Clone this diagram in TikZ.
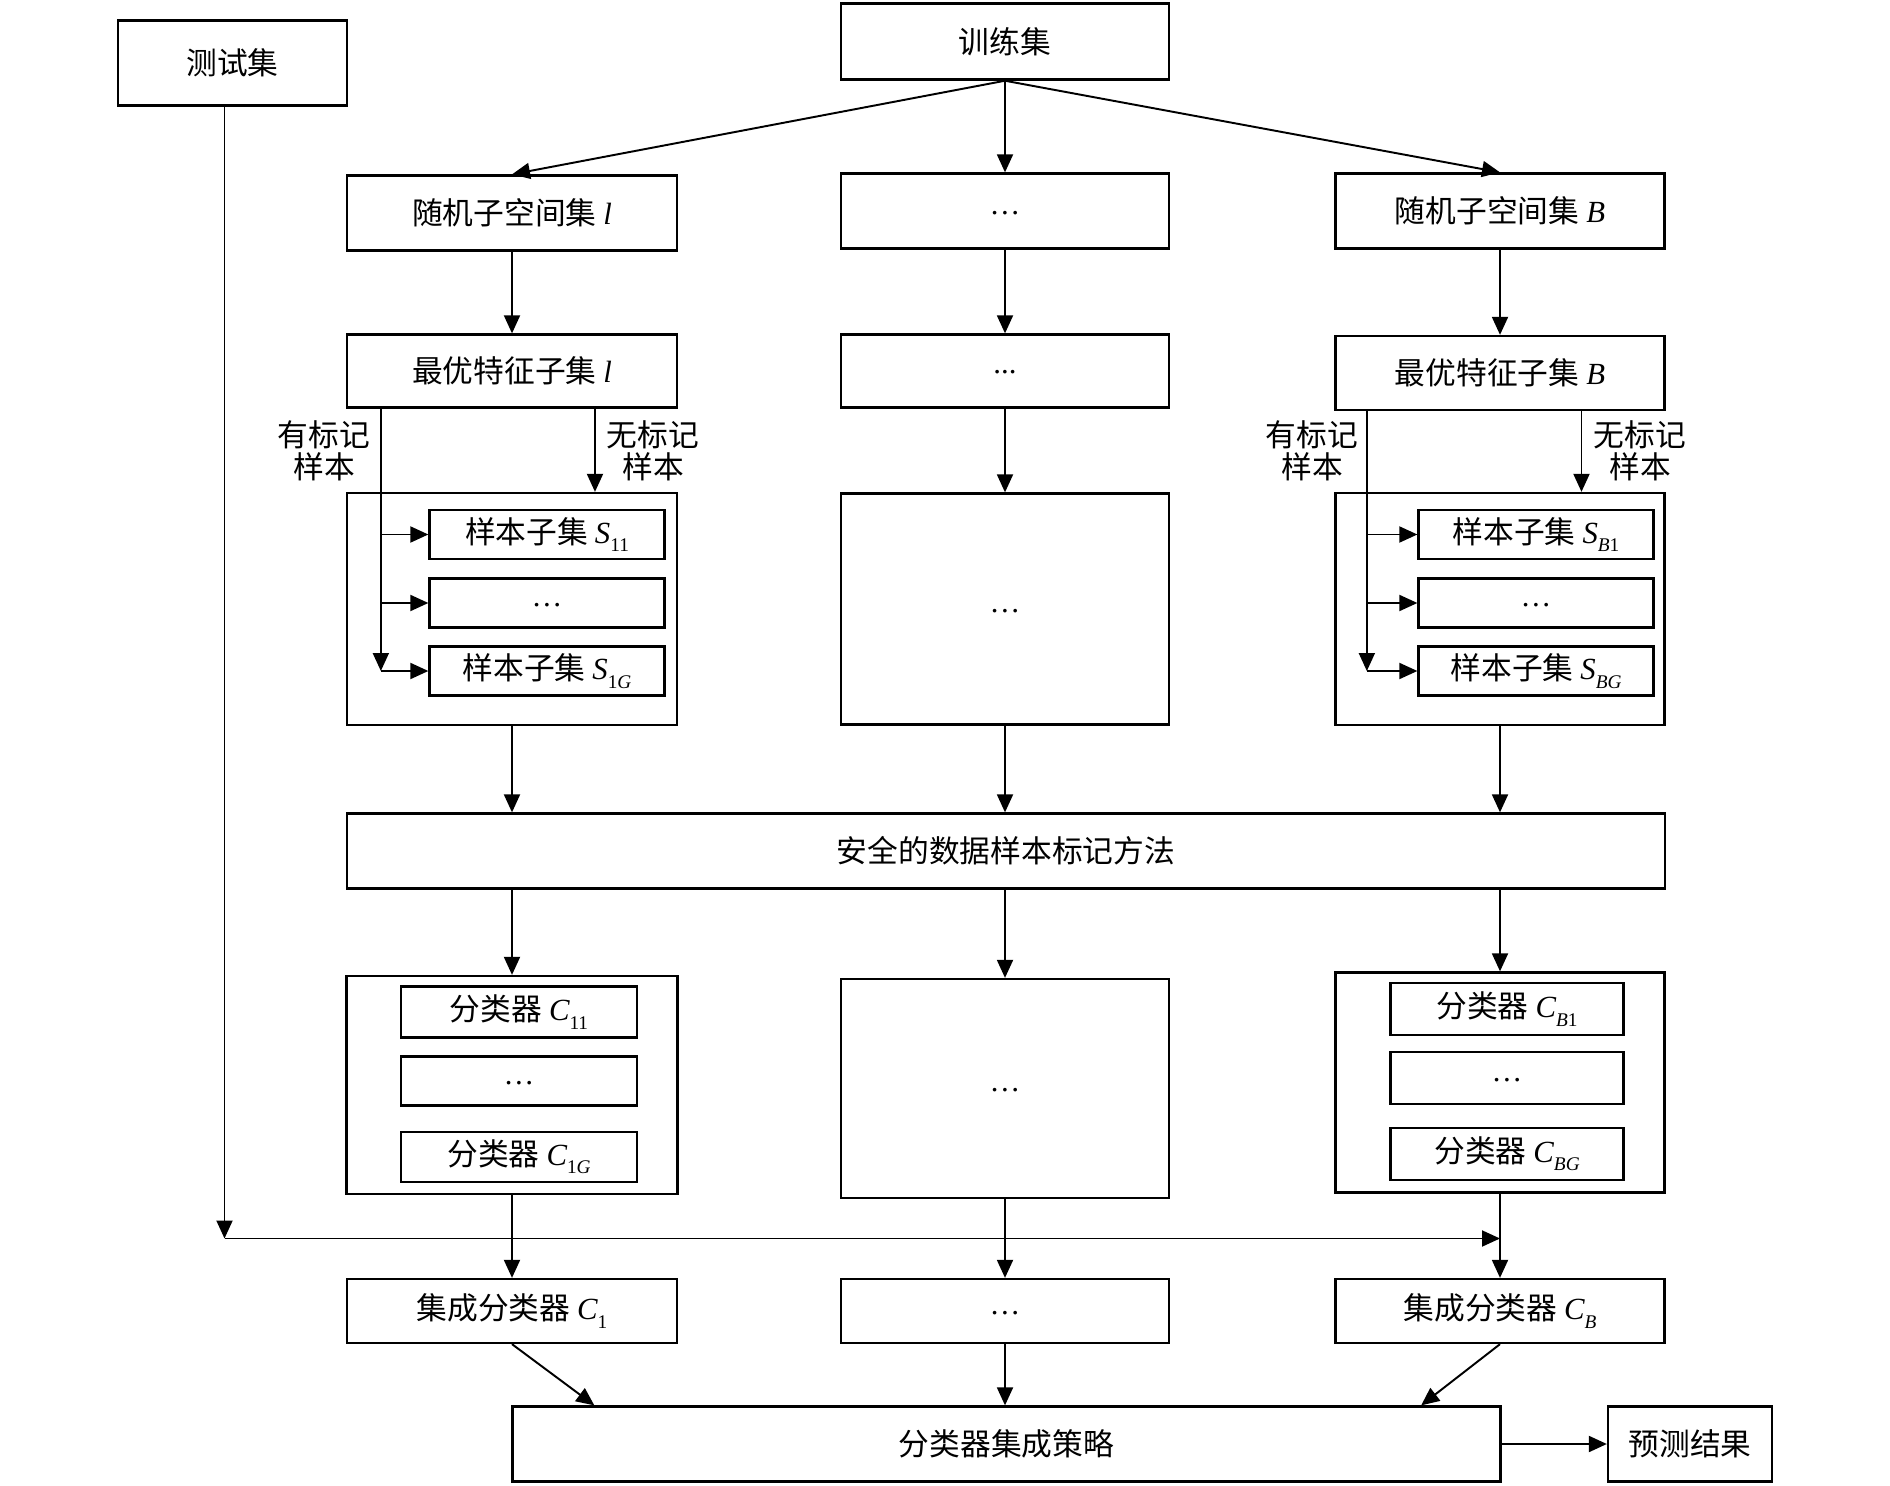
\documentclass[tikz,border=0pt]{standalone}
\usepackage{fontspec}
\setmainfont{Noto Sans CJK SC}
\newfontfamily\tnr{Liberation Serif}
\usetikzlibrary{arrows.meta,calc}
\newcommand\mvar[2]{{\tnr\itshape #1}\raisebox{-0.5ex}{\tnr\fontsize{11}{11}\selectfont #2}}
\newcommand\mdots{\raisebox{-4pt}{\tnr …}}
\begin{document}
\begin{tikzpicture}[x=0.02cm,y=-0.02cm,
  box/.style={draw,line width=1.3pt,inner sep=0pt,align=center,font=\fontsize{17.5}{18.5}\selectfont},
  wh/.style 2 args={minimum width=#1*0.02cm,minimum height=#2*0.02cm},
  arr/.style={line width=1.1pt,-{Triangle[length=0.36cm,width=0.32cm]}},
  lbl/.style={align=center,inner sep=0pt,font=\fontsize{17.5}{18.5}\selectfont}]
\useasboundingbox (0,0) rectangle (1890,1486);
% top
\node[box,wh={229}{85}] (test) at (232.5,63) {测试集};
\node[box,wh={328}{76}] (train) at (1005,41.6) {训练集};
% row 1
\node[box,wh={330}{75}] (r1l) at (512,213) {随机子空间集 {\tnr\itshape l}};
\node[box,wh={328}{75}] (r1m) at (1005,211) {\mdots};
\node[box,wh={329}{75}] (r1r) at (1500,211) {随机子空间集 {\tnr\itshape B}};
% row 2
\node[box,wh={330}{73}] (r2l) at (512,371) {最优特征子集 {\tnr\itshape l}};
\node[box,wh={328}{73}] (r2m) at (1005,371) {\raisebox{-3.5pt}{\tnr ...}};
\node[box,wh={329}{74}] (r2r) at (1500,373) {最优特征子集 {\tnr\itshape B}};
% row 3
\node[box,wh={330}{232}] (bl) at (512,609) {};
\node[box,wh={328}{231}] (bm) at (1005,609) {\mdots};
\node[box,wh={329}{232}] (br) at (1500,609) {};
\node[box,wh={235}{49}] (sl1) at (547,534.5) {样本子集 \mvar{S}{11}};
\node[box,wh={235}{49}] (sl2) at (547,603) {\mdots};
\node[box,wh={235}{49}] (sl3) at (547,671) {样本子集 \mvar{S}{1\textit{G}}};
\node[box,wh={235}{49}] (sr1) at (1536,534.5) {样本子集 \mvar{S}{\textit{B}1}};
\node[box,wh={235}{49}] (sr2) at (1536,603) {\mdots};
\node[box,wh={235}{49}] (sr3) at (1536,671) {样本子集 \mvar{S}{\textit{BG}}};
\node[lbl] (ll) at (324,451) {有标记\\样本};
\node[lbl] (ul) at (653,451) {无标记\\样本};
\node[lbl] (lr) at (1312,451) {有标记\\样本};
\node[lbl] (ur) at (1640,451) {无标记\\样本};
% row 4
\node[box,wh={1318}{75}] (safe) at (1006,851) {安全的数据样本标记方法};
% row 5
\node[box,wh={331}{218}] (cl) at (512,1085) {};
\node[box,wh={328}{219}] (cm) at (1005,1088.5) {\mdots};
\node[box,wh={329}{220}] (cr) at (1500,1082.5) {};
\node[box,wh={236}{51}] (cl1) at (519,1012) {分类器 \mvar{C}{11}};
\node[box,wh={236}{49}] (cl2) at (519,1081) {\mdots};
\node[box,wh={236}{50}] (cl3) at (519,1157) {分类器 \mvar{C}{1\textit{G}}};
\node[box,wh={233}{52}] (cr1) at (1507,1009) {分类器 \mvar{C}{\textit{B}1}};
\node[box,wh={233}{52}] (cr2) at (1507,1078) {\mdots};
\node[box,wh={233}{52}] (cr3) at (1507,1154) {分类器 \mvar{C}{\textit{BG}}};
% row 6
\node[box,wh={330}{64}] (el) at (512,1311) {集成分类器 \mvar{C}{1}};
\node[box,wh={328}{64}] (em) at (1005,1311) {\mdots};
\node[box,wh={329}{64}] (er) at (1500,1311) {集成分类器 \mvar{C}{\textit{B}}};
% row 7
\node[box,wh={988}{75}] (strat) at (1006.5,1444) {分类器集成策略};
\node[box,wh={164}{75}] (res) at (1690,1444) {预测结果};
% connectors
\draw[arr] (train.south) -- (r1l.north);
\draw[arr] (train.south) -- (r1m.north);
\draw[arr] (train.south) -- (r1r.north);
\draw[arr] (r1l.south) -- (r2l.north);
\draw[arr] (r1m.south) -- (r2m.north);
\draw[arr] (r1r.south) -- (r2r.north);
\draw[arr] (r2m.south) -- (bm.north);
% left sample routing
\draw[arr] ([xshift=0.7cm]r2l.south west) coordinate (la) -- (la |- sl3.west);
\draw[arr] (la |- sl1.west) -- (sl1.west);
\draw[arr] (la |- sl2.west) -- (sl2.west);
\draw[arr] (la |- sl3.west) -- (sl3.west);
\draw[arr] ([xshift=1.66cm]r2l.south) -- ([xshift=1.66cm]bl.north);
% right sample routing
\draw[arr] ([xshift=0.65cm]r2r.south west) coordinate (ra) -- (ra |- sr3.west);
\draw[arr] (ra |- sr1.west) -- (sr1.west);
\draw[arr] (ra |- sr2.west) -- (sr2.west);
\draw[arr] (ra |- sr3.west) -- (sr3.west);
\draw[arr] ([xshift=1.63cm]r2r.south) -- ([xshift=1.63cm]br.north);
% to safe
\draw[arr] (bl.south) -- (bl.south |- safe.north);
\draw[arr] (bm.south) -- (bm.south |- safe.north);
\draw[arr] (br.south) -- (br.south |- safe.north);
\draw[arr] (safe.south -| cl.north) -- (cl.north);
\draw[arr] (safe.south -| cm.north) -- (cm.north);
\draw[arr] (safe.south -| cr.north) -- (cr.north);
\draw[arr] (cl.south) -- (el.north);
\draw[arr] (cm.south) -- (em.north);
\draw[arr] (cr.south) -- (er.north);
% test line
\coordinate (tj) at (1500,1238.5);
\draw[arr] ([xshift=-0.16cm]test.south) coordinate (ts) -- (ts |- tj);
\draw[arr] (ts |- tj) -- (tj);
% bottom
\draw[arr] (el.south) -- ([xshift=1.66cm]strat.north west);
\draw[arr] (em.south) -- (em.south |- strat.north);
\draw[arr] (er.south) -- ([xshift=-1.61cm]strat.north east);
\draw[arr] (strat.east) -- (res.west);
\end{tikzpicture}
\end{document}
